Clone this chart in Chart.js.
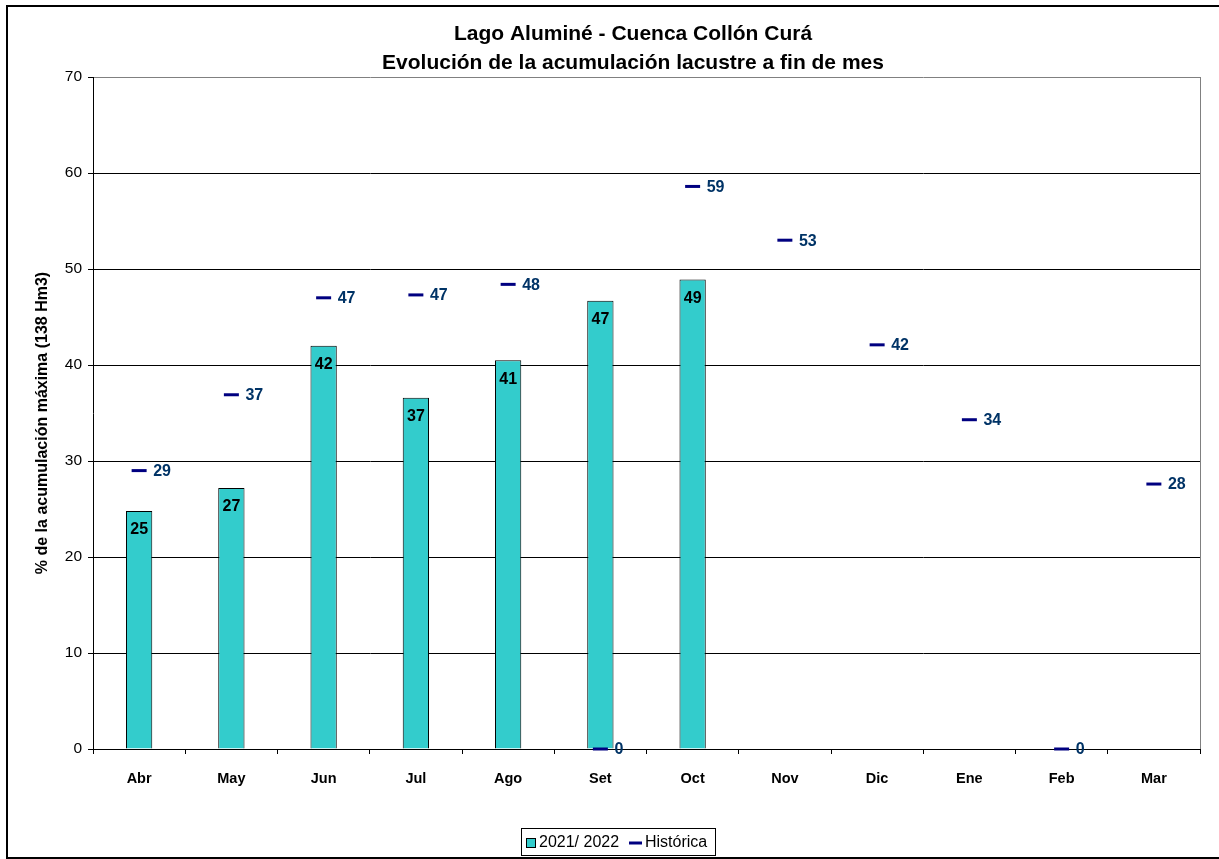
<!DOCTYPE html>
<html><head><meta charset="utf-8">
<script src="https://cdn.jsdelivr.net/npm/chart.js@4"></script>
<style>html,body{margin:0;padding:0;background:#fff}#wrap{width:1219px;height:859px}</style>
</head><body><div id="wrap"><canvas id="c" width="1219" height="859"></canvas></div>
<script>
const categories = ['Abr','May','Jun','Jul','Ago','Set','Oct','Nov','Dic','Ene','Feb','Mar'];
const serie2122 = [24.8, 27.2, 42.0, 36.6, 40.5, 46.7, 48.9, null, null, null, null, null];
const historica = [29.0, 36.9, 47.0, 47.3, 48.4, 0, 58.6, 53.0, 42.1, 34.3, 0, 27.6];
const yTicks = [0,10,20,30,40,50,60,70];
const titleLines = ['Lago Aluminé - Cuenca Collón Curá','Evolución de la acumulación lacustre a fin de mes'];
const yTitle = '% de la acumulación máxima (138 Hm3)';
const legendNames = ['2021/ 2022','Histórica'];

const FONT = '"Liberation Sans", Arial, sans-serif';
const TEAL = '#33CCCC', NAVY = '#000080', LBLUE = '#003366';

const deco = {
  id:'deco',
  beforeDraw(chart){
    const ctx = chart.ctx;
    ctx.save();
    ctx.fillStyle='#fff'; ctx.fillRect(0,0,chart.width,chart.height);
    ctx.restore();
  },
  afterDatasetsDraw(chart){
    const ctx = chart.ctx, ca = chart.chartArea;
    ctx.save();
    ctx.strokeStyle='#808080'; ctx.lineWidth=1;
    ctx.beginPath(); ctx.moveTo(Math.round(ca.right)+0.5, ca.top); ctx.lineTo(Math.round(ca.right)+0.5, ca.bottom); ctx.stroke();
    const mb = chart.getDatasetMeta(1);
    ctx.font = 'bold 16px '+FONT; ctx.fillStyle='#000'; ctx.textAlign='center'; ctx.textBaseline='middle';
    mb.data.forEach((el,i)=>{
      const v = serie2122[i]; if(v==null) return;
      ctx.fillText(String(Math.round(v)), el.x, el.y+19);
    });
    const mh = chart.getDatasetMeta(0);
    ctx.fillStyle=LBLUE; ctx.textAlign='left';
    mh.data.forEach((el,i)=>{
      const v = historica[i]; if(v==null) return;
      ctx.fillText(String(Math.round(v)), el.x+14, el.y+1);
    });
    ctx.restore();
  },
  afterDraw(chart){
    const ctx = chart.ctx;
    ctx.save();
    ctx.fillStyle='#000'; ctx.textAlign='center'; ctx.textBaseline='middle';
    ctx.font='bold 21px '+FONT;
    ctx.fillText(titleLines[0], 633, 34);
    ctx.fillText(titleLines[1], 633, 63);
    ctx.save();
    ctx.translate(43, 423); ctx.rotate(-Math.PI/2);
    ctx.font='bold 16px '+FONT;
    ctx.fillText(yTitle, 0, 0);
    ctx.restore();
    ctx.font='16px '+FONT;
    const lx=521, ly=828, lw=194, lh=27;
    ctx.strokeStyle='#000'; ctx.lineWidth=1;
    ctx.strokeRect(lx+0.5, ly+0.5, lw, lh);
    ctx.fillStyle=TEAL; ctx.fillRect(526.5, 838.5, 9, 9);
    ctx.strokeRect(526.5, 838.5, 9, 9);
    ctx.fillStyle='#000'; ctx.textAlign='left';
    ctx.fillText(legendNames[0], 539, 843);
    ctx.strokeStyle=NAVY; ctx.lineWidth=3;
    ctx.beginPath(); ctx.moveTo(629, 843); ctx.lineTo(642, 843); ctx.stroke();
    ctx.fillStyle='#000';
    ctx.fillText(legendNames[1], 645, 843);
    ctx.strokeStyle='#000'; ctx.lineWidth=2;
    ctx.strokeRect(7, 6, 1230, 852);
    ctx.restore();
  }
};

new Chart(document.getElementById('c'), {
  data:{
    labels: categories,
    datasets:[
      {type:'line', label:legendNames[1], data:historica, showLine:false, pointStyle:'line',
       pointRadius:7.5, pointHoverRadius:7.5, pointBorderWidth:3, pointBorderColor:NAVY, borderColor:NAVY,
       backgroundColor:NAVY, clip:false, order:0},
      {type:'bar', label:legendNames[0], data:serie2122, backgroundColor:TEAL, borderColor:'#000',
       borderWidth:1, barPercentage:0.285, categoryPercentage:1, order:1}
    ]
  },
  options:{
    responsive:false, animation:false, devicePixelRatio:1,
    layout:{padding:{top:77, right:19, left:0, bottom:0}},
    plugins:{legend:{display:false}, title:{display:false}, tooltip:{enabled:false}},
    scales:{
      x:{
        offset:true,
        grid:{offset:true, drawOnChartArea:false, drawTicks:true, tickLength:5, color:'#000', tickColor:'#000'},
        border:{display:true, color:'#000', width:1},
        ticks:{font:{family:FONT, size:14.5, weight:'bold'}, color:'#000', padding:16, maxRotation:0},
        afterFit(s){ s.height = 110; }
      },
      y:{
        min:0, max:70,
        afterBuildTicks(s){ s.ticks = yTicks.map(v=>({value:v})); },
        grid:{color:(c)=> c.tick && c.tick.value===70 ? '#808080' : '#000', tickLength:5, tickColor:'#000', drawTicks:true},
        border:{display:true, color:'#000', width:1},
        ticks:{font:{family:FONT, size:15.5}, color:'#000', padding:6},
        afterFit(s){ s.width = 93; }
      }
    }
  },
  plugins:[deco]
});
</script>
</body></html>
